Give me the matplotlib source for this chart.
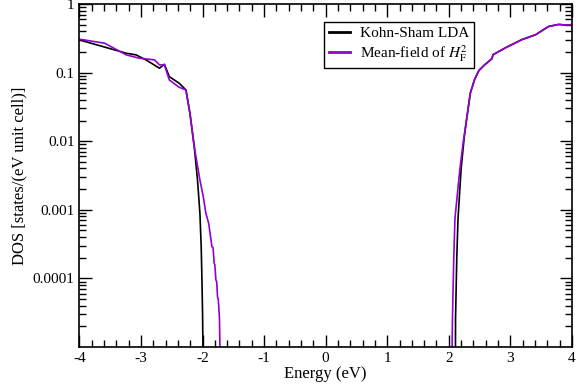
import numpy as np
import matplotlib
matplotlib.use("Agg")
import matplotlib.pyplot as plt
from matplotlib.ticker import LogLocator, FixedLocator, MultipleLocator, NullFormatter

plt.rcParams['font.family'] = ['Liberation Serif', 'DejaVu Serif']
plt.rcParams['mathtext.fontset'] = 'stix'

# valence band edge, Kohn-Sham LDA
e_ks_v = [-4.0, -3.62, -3.24, -3.08, -2.92, -2.70, -2.62, -2.54, -2.38, -2.27,
          -2.205, -2.135, -2.082, -2.043, -2.022, -2.010, -2.0, -1.994, -1.99]
log_ks_v = [-0.525, -0.622, -0.719, -0.743, -0.816, -0.937, -0.879, -1.06, -1.156, -1.254,
            -1.593, -2.08, -2.566, -3.051, -3.538, -4.02, -4.51, -5.0, -6.0]

# valence band edge, mean-field of H_F^2
e_mf_v = [-4.0, -3.59, -3.24, -3.03, -2.78, -2.70, -2.62, -2.54, -2.38, -2.27,
          -2.205, -2.135, -2.043, -1.99, -1.946, -1.90, -1.848, -1.83, -1.811, -1.80,
          -1.784, -1.77, -1.757, -1.745, -1.730, -1.725, -1.718, -1.715]
log_mf_v = [-0.515, -0.573, -0.743, -0.791, -0.816, -0.889, -0.889, -1.108, -1.215, -1.254,
            -1.593, -2.08, -2.566, -2.80, -3.05, -3.20, -3.538, -3.55, -3.78, -3.80,
            -4.02, -4.05, -4.27, -4.30, -4.51, -4.60, -5.0, -6.0]

# conduction band edge, Kohn-Sham LDA
e_ks_c = [2.105, 2.11, 2.13, 2.15, 2.20, 2.25, 2.29, 2.35, 2.42, 2.49, 2.58, 2.70, 2.72, 2.92,
          3.19, 3.41, 3.62, 3.78, 3.95, 4.0]
log_ks_c = [-6.0, -4.58, -3.70, -3.13, -2.41, -1.95, -1.68, -1.30, -1.10, -0.97, -0.89, -0.80, -0.74, -0.64,
            -0.52, -0.45, -0.33, -0.30, -0.31, -0.30]

# conduction band edge, mean-field of H_F^2
e_mf_c = [2.04, 2.06, 2.08, 2.10, 2.18, 2.24, 2.29, 2.35, 2.42, 2.49, 2.58, 2.70, 2.72, 2.92,
          3.19, 3.41, 3.62, 3.78, 3.95, 4.0]
log_mf_c = [-6.0, -4.58, -3.75, -3.13, -2.41, -1.98, -1.68, -1.30, -1.10, -0.97, -0.89, -0.80, -0.74, -0.64,
            -0.52, -0.45, -0.33, -0.30, -0.31, -0.30]

purple = '#9400d3'

fig = plt.figure(figsize=(5.8, 3.87), dpi=100)
ax = fig.add_axes([0.137, 0.103, 0.849, 0.887])

ax.plot(e_ks_v, 10**np.array(log_ks_v), color='k', lw=1.2, label='Kohn-Sham LDA')
ax.plot(e_mf_v, 10**np.array(log_mf_v), color=purple, lw=1.2, label='Mean-field of $H_{\\rm F}^2$')
ax.plot(e_ks_c, 10**np.array(log_ks_c), color='k', lw=1.2)
ax.plot(e_mf_c, 10**np.array(log_mf_c), color=purple, lw=1.2)

ax.set_yscale('log')
ax.set_xlim(-4, 4)
ax.set_ylim(1e-5, 1)
ax.xaxis.set_major_locator(FixedLocator(range(-4, 5)))
ax.xaxis.set_minor_locator(MultipleLocator(0.2))
ax.set_xticklabels([str(i) for i in range(-4, 5)])
ax.yaxis.set_major_locator(FixedLocator([1e-4, 1e-3, 1e-2, 1e-1, 1]))
ax.set_yticklabels(['0.0001', '0.001', '0.01', '0.1', '1'])
ax.yaxis.set_minor_locator(LogLocator(base=10, subs=np.arange(2, 10)))
ax.yaxis.set_minor_formatter(NullFormatter())

ax.tick_params(which='both', direction='in', top=True, right=True, labelsize=11, width=1)
ax.tick_params(which='major', length=9)
ax.tick_params(which='minor', length=5)
for s in ax.spines.values():
    s.set_linewidth(1.2)

ax.set_xlabel('Energy (eV)', fontsize=12, labelpad=1)
ax.set_ylabel('DOS [states/(eV unit cell)]', fontsize=12, labelpad=4)

leg = ax.legend(loc='upper right', bbox_to_anchor=(0.801, 0.948), fontsize=11,
                frameon=True, fancybox=False, edgecolor='k', framealpha=1,
                handlelength=1.4, handletextpad=0.65, borderpad=0.3,
                labelspacing=0.2, borderaxespad=0)
leg.get_frame().set_linewidth(1.0)
for line in leg.get_lines():
    line.set_linewidth(2.0)

fig.savefig('out.png', dpi=100)
